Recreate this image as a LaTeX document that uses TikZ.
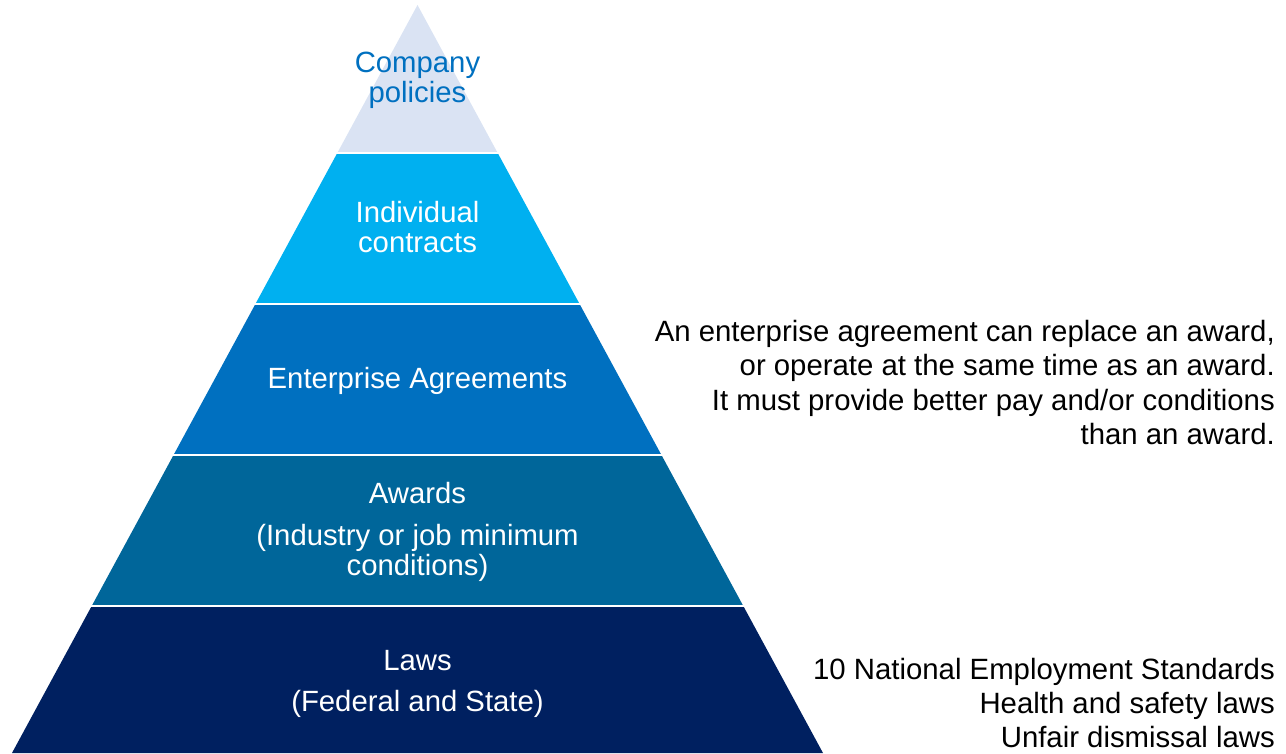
\documentclass[tikz,border=0pt]{standalone}
\usepackage{fontspec}
\setmainfont{Liberation Sans}

\definecolor{policyfill}{HTML}{DAE3F3}
\definecolor{policyblue}{HTML}{0070C0}
\definecolor{contractfill}{HTML}{00B0F0}
\definecolor{agreementfill}{HTML}{0070C0}
\definecolor{awardfill}{HTML}{00669A}
\definecolor{lawfill}{HTML}{002060}

\tikzset{
  tier/.style={align=center, inner sep=0pt, text=white,
    font=\fontsize{29.3}{30}\selectfont},
  sidenote/.style={align=right, anchor=east, inner sep=0pt, text=black,
    font=\fontsize{29.35}{34.3}\selectfont},
  gapline/.style={white, line width=2.6pt}
}

\begin{document}
\begin{tikzpicture}[x=1pt,y=1pt,line join=miter]
  \useasboundingbox (0,0) rectangle (1286,753);
  % pyramid, one tier at a time from the bottom
  \fill[lawfill] (12,0) -- (823,0) -- (743.3,147) -- (91.7,147) -- cycle;
  \fill[awardfill] (91.7,147) -- (743.3,147) -- (661.45,298) -- (173.55,298) -- cycle;
  \fill[agreementfill] (173.55,298) -- (661.45,298) -- (579.6,449) -- (255.4,449) -- cycle;
  \fill[contractfill] (255.4,449) -- (579.6,449) -- (497.7,600) -- (337.3,600) -- cycle;
  \fill[policyfill] (337.3,600) -- (497.7,600) -- (417.5,748) -- cycle;
  % white seams between the tiers
  \draw[gapline] (80,147) -- (755,147);
  \draw[gapline] (160,298) -- (675,298);
  \draw[gapline] (240,449) -- (595,449);
  \draw[gapline] (320,600) -- (515,600);

  \node[tier, text=policyblue] (policies) at (417.5,673) {Company\\policies};
  \node[tier] (contracts) at (417.5,526) {Individual\\contracts};
  \node[tier] (agreements) at (417.5,372) {Enterprise Agreements};
  \node[tier] (awards) at (417.5,221) {Awards\\[12pt](Industry or job minimum\\conditions)};
  \node[tier] (laws) at (417.5,69.5) {Laws\\[11pt](Federal and State)};

  \node[sidenote] (agreementnote) at (1275,370.5) {An enterprise agreement can replace an award,\\
    or operate at the same time as an award.\\
    It must provide better pay and/or conditions\\
    than an award.};
  \node[sidenote] (lawnote) at (1275,50) {10 National Employment Standards\\
    Health and safety laws\\
    Unfair dismissal laws};
\end{tikzpicture}
\end{document}
